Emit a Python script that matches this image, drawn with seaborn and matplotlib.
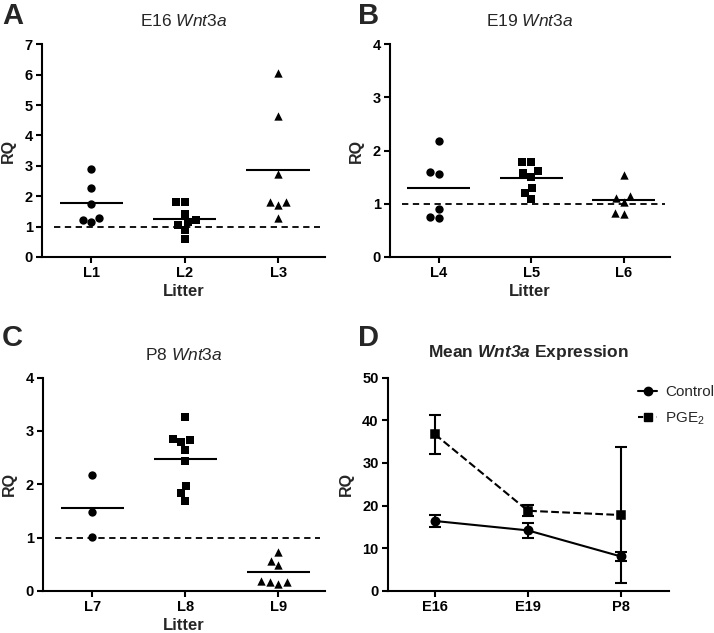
import matplotlib
matplotlib.use("Agg")
import matplotlib.pyplot as plt
from matplotlib.lines import Line2D
import numpy as np
import pandas as pd
import seaborn as sns

# Panel A: E16
a_litters = ["L1", "L2", "L3"]
a_L1 = [2.91, 2.28, 1.74, 1.28, 1.14, 1.22]
a_L2 = [1.80, 1.80, 1.42, 1.14, 1.05, 1.22, 0.88, 0.60]
a_L3 = [6.07, 4.64, 2.73, 1.80, 1.72, 1.80, 1.27]

# Panel B: E19
b_litters = ["L4", "L5", "L6"]
b_L4 = [2.18, 1.57, 1.60, 0.90, 0.73, 0.76]
b_L5 = [1.78, 1.78, 1.61, 1.58, 1.51, 1.29, 1.21, 1.10]
b_L6 = [1.55, 1.11, 1.14, 1.03, 0.81, 0.83]

# Panel C: P8
c_litters = ["L7", "L8", "L9"]
c_L7 = [2.18, 1.49, 1.02]
c_L8 = [3.27, 2.83, 2.79, 2.85, 2.65, 2.43, 1.96, 1.83, 1.69]
c_L9 = [0.73, 0.56, 0.48, 0.17, 0.14, 0.17, 0.19]

# Panel D: means
d_ages = ["E16", "E19", "P8"]
d_control = [16.4, 14.2, 8.1]
d_control_err = [1.5, 1.75, 1.0]
d_pge2 = [36.7, 18.8, 17.8]
d_pge2_err = [4.5, 1.3, 15.9]

sns.set_style("ticks")
plt.rcParams["font.family"] = ["Liberation Sans", "DejaVu Sans"]
plt.rcParams["mathtext.fontset"] = "custom"
plt.rcParams["mathtext.rm"] = "Liberation Sans"
plt.rcParams["mathtext.it"] = "Liberation Sans:italic"
plt.rcParams["mathtext.bf"] = "Liberation Sans:bold"
plt.rcParams["mathtext.bfit"] = "Liberation Sans:italic:bold"

markers = ["o", "s", "^"]


def style_axes(ax):
    for side in ["left", "bottom"]:
        ax.spines[side].set_linewidth(1.5)
        ax.spines[side].set_color("black")
    sns.despine(ax=ax)
    ax.tick_params(length=4, width=1.5, colors="black", labelsize=10.5, pad=2.5)
    for lab in ax.get_xticklabels() + ax.get_yticklabels():
        lab.set_fontweight("bold")


def scatter_panel(ax, litters, groups, ymax, title, show_xlabel=True):
    for i, (name, vals) in enumerate(zip(litters, groups)):
        sns.swarmplot(x=[name] * len(vals), y=vals, order=litters,
                      marker=markers[i], color="black", size=6, ax=ax)
        ax.hlines(np.mean(vals), i - 0.34, i + 0.34, color="black", lw=1.5)
    ax.hlines(1, -0.4, 2.45, color="black", lw=1.3, linestyles=(0, (3.5, 2.5)))
    ax.set_xlim(-0.53, 2.5)
    ax.set_ylim(0, ymax)
    ax.set_yticks(range(ymax + 1))
    ax.set_ylabel("RQ", fontsize=11.5, fontweight="bold", labelpad=6)
    if show_xlabel:
        ax.set_xlabel("Litter", fontsize=12, fontweight="bold", labelpad=3)
    ax.set_title(title, fontsize=12.5, pad=13)
    style_axes(ax)


fig = plt.figure(figsize=(7.14, 6.33), dpi=100)
ax_a = fig.add_axes([0.0588, 0.594, 0.396, 0.336])
ax_b = fig.add_axes([0.546, 0.594, 0.392, 0.336])
ax_c = fig.add_axes([0.060, 0.0664, 0.395, 0.337])
ax_d = fig.add_axes([0.543, 0.0664, 0.394, 0.337])

scatter_panel(ax_a, a_litters, [a_L1, a_L2, a_L3], 7, r"E16 $\mathit{Wnt3a}$")
scatter_panel(ax_b, b_litters, [b_L4, b_L5, b_L6], 4, r"E19 $\mathit{Wnt3a}$")
scatter_panel(ax_c, c_litters, [c_L7, c_L8, c_L9], 4, r"P8 $\mathit{Wnt3a}$")

# Panel D
df_d = pd.DataFrame({
    "age": d_ages * 2,
    "RQ": d_control + d_pge2,
    "group": ["Control"] * 3 + ["PGE2"] * 3,
})
sns.pointplot(data=df_d, x="age", y="RQ", hue="group", order=d_ages,
              markers=["o", "s"], linestyles=["-", "--"], palette=["black", "black"],
              errorbar=None, markersize=6, linewidth=1.5, ax=ax_d, legend=False)
xs = np.arange(len(d_ages))
ax_d.errorbar(xs, d_control, yerr=d_control_err, fmt="none", ecolor="black",
              elinewidth=1.5, capsize=4, capthick=1.5)
ax_d.errorbar(xs, d_pge2, yerr=d_pge2_err, fmt="none", ecolor="black",
              elinewidth=1.5, capsize=4, capthick=1.5)
ax_d.set_xlim(-0.51, 2.52)
ax_d.set_ylim(0, 50)
ax_d.set_yticks(range(0, 51, 10))
ax_d.set_xlabel("")
ax_d.set_ylabel("RQ", fontsize=11.5, fontweight="bold", labelpad=6)
ax_d.set_title(r"Mean $\mathbfit{Wnt3a}$ Expression", fontsize=12.5,
               fontweight="bold", pad=15)
style_axes(ax_d)
handles = [
    Line2D([], [], color="black", lw=1.5, marker="o", markersize=6, ls="-"),
    Line2D([], [], color="black", lw=1.5, marker="s", markersize=6, ls=(0, (2.5, 2))),
]
ax_d.legend(handles, ["Control", r"PGE$_2$"], loc="upper left",
            bbox_to_anchor=(0.89, 0.965), frameon=False, fontsize=11,
            handlelength=1.25, handletextpad=0.5, labelspacing=0.75,
            borderaxespad=0, borderpad=0)

# panel letters
for letter, x, y in [("A", 0.003, 0.974), ("B", 0.501, 0.974),
                     ("C", 0.003, 0.466), ("D", 0.501, 0.466)]:
    fig.text(x, y, letter, fontsize=21, fontweight="bold", va="center", ha="left")

fig.savefig("out.png", dpi=100)
